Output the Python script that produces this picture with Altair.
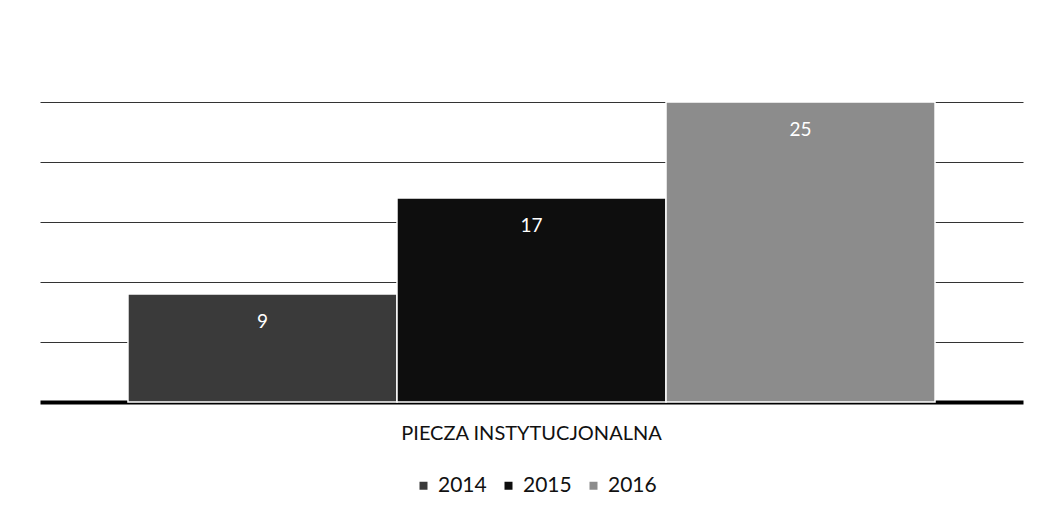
import altair as alt
import pandas as pd

categories = ["PIECZA INSTYTUCJONALNA"] * 3
years = ["2014", "2015", "2016"]
values = [9, 17, 25]
colors = ["#3a3a3a", "#0e0e0e", "#8c8c8c"]
grid_values = [5, 10, 15, 20, 25]

df = pd.DataFrame({"cat": categories, "year": years, "value": values})

FONT = "Lato"

x_enc = alt.X(
    "cat:N",
    scale=alt.Scale(paddingInner=0, paddingOuter=0.109),
    axis=alt.Axis(
        title=None,
        labelFont=FONT,
        labelFontSize=20,
        labelColor="#111111",
        labelAngle=0,
        labelBaseline="middle",
        labelPadding=31,
        labelLimit=0,
        ticks=False,
        tickSize=0,
        domain=True,
        domainColor="#000000",
        domainWidth=4,
    ),
)
xoff = alt.XOffset("year:N", scale=alt.Scale(paddingInner=0, paddingOuter=0))
y_enc = alt.Y(
    "value:Q",
    scale=alt.Scale(domain=[0, 25], nice=False),
    axis=alt.Axis(
        title=None,
        labels=False,
        ticks=False,
        domain=False,
        values=grid_values,
        grid=True,
        gridColor="#333333",
        gridWidth=1,
    ),
)

bars = alt.Chart(df).mark_bar(stroke="white", strokeWidth=1.5).encode(
    x=x_enc,
    xOffset=xoff,
    y=y_enc,
    color=alt.Color(
        "year:N",
        scale=alt.Scale(domain=years, range=colors),
        legend=alt.Legend(
            title=None,
            orient="none",
            direction="horizontal",
            legendX=373,
            legendY=373,
            symbolType="square",
            symbolSize=64,
            symbolStrokeWidth=0,
            labelFont=FONT,
            labelFontSize=21,
            labelColor="#111111",
            labelOffset=4,
            columnPadding=11,
            padding=0,
        ),
    ),
)

labels = alt.Chart(df).mark_text(
    color="white", fontSize=19, font=FONT, baseline="middle", align="center", dy=28
).encode(
    x=alt.X("cat:N"),
    xOffset=alt.XOffset("year:N"),
    y=alt.Y("value:Q"),
    text=alt.Text("value:Q"),
)

chart = (
    alt.layer(bars, labels)
    .properties(
        width=983,
        height=300,
        autosize=alt.AutoSizeParams(type="none"),
        padding={"left": 32, "top": 94, "right": 10, "bottom": 112},
        background="white",
    )
    .configure_view(stroke=None)
)

chart.save("out.html", embed_options={"renderer": "svg", "actions": False})
